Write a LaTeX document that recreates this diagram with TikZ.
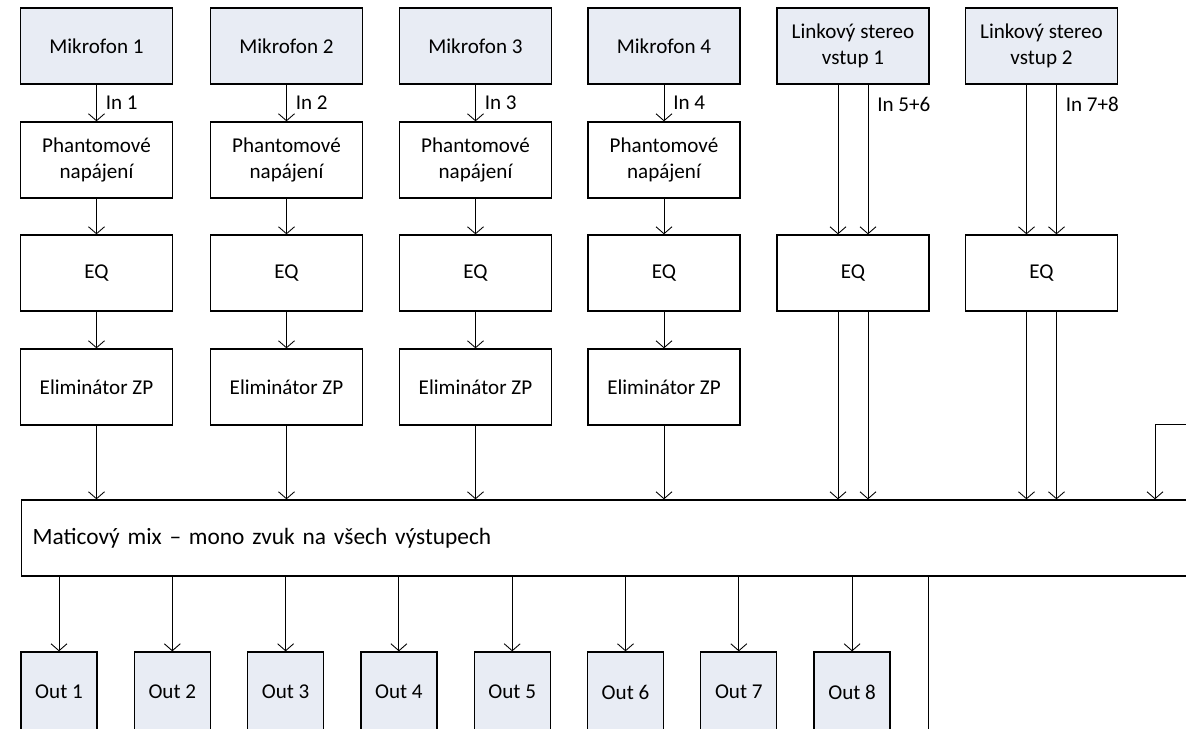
\documentclass[tikz,border=0pt]{standalone}
\usepackage{fontspec}
\setmainfont{Carlito}
\usetikzlibrary{arrows.meta}
\definecolor{inbox}{RGB}{232,236,244}
\tikzset{
    block/.style={
        draw,
        line width=0.75pt,
        minimum width=3.04cm,
        minimum height=1.52cm,
        align=center,
        font=\fontsize{12}{14.5}\selectfont
    },
    source/.style={block, fill=inbox},
    outbox/.style={block, fill=inbox, minimum width=1.52cm, minimum height=1.6cm},
    sig/.style={->, line width=0.5pt},
    tag/.style={right, xshift=0.06cm, font=\fontsize{12}{14.5}\selectfont}
}

\begin{document}
\begin{tikzpicture}[>={Straight Barb[length=1.4mm,width=3.2mm]}]
  \useasboundingbox (0,0) rectangle (23.72,14.58);
  \clip (0,0) rectangle (23.72,14.58);

  % mix
  \node[block, anchor=west, minimum width=24cm, text width=23.56cm,
        inner xsep=0.22cm, align=left, font=\fontsize{13.3}{16}\selectfont]
        (mix) at (0.42,3.82)
        {Maticový mix -- mono zvuk na všech výstupech};

  % microphones
  \foreach \i/\x in {1/1.93,2/5.73,3/9.51,4/13.28}{
    \node[source] (M\i) at (\x,13.66) {Mikrofon \i};
    \node[block] (P\i) at (\x,11.38) {Phantomové\\napájení};
    \node[block] (E\i) at (\x,9.12) {EQ};
    \node[block] (Z\i) at (\x,6.84) {Eliminátor ZP};
    \draw[sig] (M\i) -- node[tag] {In \i} (P\i);
    \draw[sig] (P\i) -- (E\i);
    \draw[sig] (E\i) -- (Z\i);
    \draw[sig] (Z\i) -- (Z\i |- mix.north);
  }

  % line inputs
  \foreach \i/\x/\n in {1/17.06/5+6,2/20.83/7+8}{
    \node[source] (L\i) at (\x,13.66) {Linkový stereo\\vstup \i};
    \node[block] (Q\i) at (\x,9.12) {EQ};
    \draw[sig] ([xshift=-0.3cm]L\i.south) -- ([xshift=-0.3cm]Q\i.north);
    \draw[sig] ([xshift=0.3cm]L\i.south) -- node[tag, pos=0.13] {In \n}
      ([xshift=0.3cm]Q\i.north);
    \draw[sig] ([xshift=-0.3cm]Q\i.south) -- ([xshift=-0.3cm]Q\i.south |- mix.north);
    \draw[sig] ([xshift=0.3cm]Q\i.south) -- ([xshift=0.3cm]Q\i.south |- mix.north);
  }

  % feed from the right
  \coordinate (feed) at (24.2,6.10);
  \coordinate (bend) at (23.1,6.10);
  \draw[sig] (feed) -- (bend) -- (bend |- mix.north);

  % outputs
  \foreach \k in {1,...,8}{
    \node[outbox] (O\k) at ({1.18+2.266*(\k-1)},0.74) {Out \k};
    \draw[sig] (O\k |- mix.south) -- (O\k);
  }
  \coordinate (tap) at (18.56,-0.1);
  \draw[line width=0.5pt] (tap |- mix.south) -- (tap);
\end{tikzpicture}
\end{document}
